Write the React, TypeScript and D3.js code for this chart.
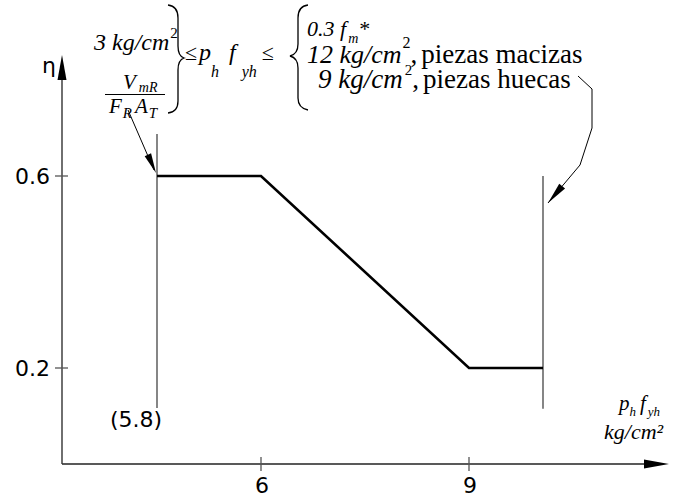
import React from "react";
import * as d3 from "d3";

const W = 677;
const H = 497;

// Reduction factor η against p_h·f_yh (schematic abscissa, broken at the left bound)
const pfValues = [5.8, 6, 9, 10];
const etaValues = [0.6, 0.6, 0.2, 0.2];
const xTickValues = [6, 9];
const yTickValues = [0.2, 0.6];
const yTickLabels = ["0.2", "0.6"];
const leftBoundLabel = "(5.8)";
// vertical extent (in η) of the two bounding lines
const leftBoundEta = [0.1167, 0.6875];
const rightBoundEta = [0.115, 0.6];

const SERIF = "'Liberation Serif', 'Times New Roman', serif";
const SANS = "'DejaVu Sans', Verdana, sans-serif";

const x = d3.scaleLinear().domain(pfValues).range([157, 261, 469, 543]);
const y = d3.scaleLinear().domain([0, 0.6]).range([464, 176]);

const axisX0 = 62;
const axisXEnd = 669;
const axisYTop = 55;

const curve = d3
  .line<number>()
  .x((d) => x(d))
  .y((_, i) => y(etaValues[i]));

function arrowHead(tip: [number, number], from: [number, number], len: number, half: number) {
  const dx = tip[0] - from[0];
  const dy = tip[1] - from[1];
  const l = Math.hypot(dx, dy);
  const ux = dx / l;
  const uy = dy / l;
  const bx = tip[0] - ux * len;
  const by = tip[1] - uy * len;
  const px = -uy * half;
  const py = ux * half;
  return `${tip[0]},${tip[1]} ${bx + px},${by + py} ${bx - px},${by - py}`;
}

const serifText = { fontFamily: SERIF, fill: "#000" } as const;

export default function App() {
  const y0 = y(0);
  const xl = x(5.8);
  const xr = x(10);

  const rightLeader: [number, number][] = [
    [578, 76],
    [592, 89],
    [592, 128],
    [580, 165],
    [xr + 5, 203],
  ];

  return (
    <svg
      width={W}
      height={H}
      style={{ position: "absolute", left: 0, top: 0, background: "#fff" }}
    >
      {/* axes */}
      <line x1={axisX0} y1={y0} x2={axisXEnd - 20} y2={y0} stroke="#222" strokeWidth={1.4} />
      <polygon points={arrowHead([axisXEnd, y0], [axisX0, y0], 25, 4.5)} fill="#000" />
      <line x1={axisX0} y1={y0} x2={axisX0} y2={axisYTop + 20} stroke="#333" strokeWidth={1.4} />
      <polygon points={arrowHead([axisX0, axisYTop], [axisX0, y0], 25, 4.5)} fill="#000" />

      {/* ticks */}
      {xTickValues.map((v) => (
        <g key={"xt" + v}>
          <line x1={x(v)} x2={x(v)} y1={y0 - 7} y2={y0 + 7} stroke="#555" strokeWidth={1.3} />
          <text x={x(v) + 1} y={493} textAnchor="middle" fontFamily={SANS} fontSize={22} fill="#000">
            {v}
          </text>
        </g>
      ))}
      {yTickValues.map((v, i) => (
        <g key={"yt" + v}>
          <line x1={axisX0 - 7} x2={axisX0 + 6} y1={y(v)} y2={y(v)} stroke="#555" strokeWidth={1.3} />
          <text x={50} y={y(v) + 8} textAnchor="end" fontFamily={SANS} fontSize={22} fill="#000">
            {yTickLabels[i]}
          </text>
        </g>
      ))}
      <text x={42} y={73} fontFamily={SANS} fontSize={22} fill="#000">
        η
      </text>

      {/* bounding lines */}
      <line x1={xl} x2={xl} y1={y(leftBoundEta[0])} y2={y(leftBoundEta[1])} stroke="#444" strokeWidth={1.3} />
      <line x1={xr} x2={xr} y1={y(rightBoundEta[0])} y2={y(rightBoundEta[1])} stroke="#444" strokeWidth={1.3} />
      <text x={xl - 21} y={427} textAnchor="middle" fontFamily={SANS} fontSize={22} fill="#000">
        {leftBoundLabel}
      </text>

      {/* η curve */}
      <path d={curve(pfValues) || ""} fill="none" stroke="#000" strokeWidth={2.6} strokeLinejoin="miter" />

      {/* lower limit group */}
      <text x={94} y={50} fontSize={24} fontStyle="italic" {...serifText}>
        3 kg/cm
        <tspan dx={1} dy={-12} fontSize={15} fontStyle="normal">2</tspan>
      </text>
      <text x={123} y={89} fontSize={21} fontStyle="italic" {...serifText}>
        V
        <tspan dx={3} dy={3} fontSize={14}>mR</tspan>
      </text>
      <line x1={105} x2={165} y1={94.5} y2={94.5} stroke="#000" strokeWidth={1} />
      <text x={109} y={113} fontSize={21} fontStyle="italic" {...serifText}>
        F
        <tspan dx={1} dy={5} fontSize={15}>R</tspan>
        <tspan dx={3} dy={-5}>A</tspan>
        <tspan dx={1} dy={5} fontSize={15}>T</tspan>
      </text>
      <path
        d="M168,5 Q178,6 178,18 L178,46 Q178,56 184,58 Q178,60 178,70 L178,101 Q178,112 168,113"
        fill="none"
        stroke="#000"
        strokeWidth={1.3}
      />

      {/* ≤ p_h f_yh ≤ */}
      <text x={185} y={60} fontSize={22} {...serifText}>
        ≤
        <tspan dx={2} fontSize={24} fontStyle="italic">p</tspan>
        <tspan dx={0} dy={17} fontSize={16} fontStyle="italic">h</tspan>
        <tspan dx={10} dy={-17} fontSize={24} fontStyle="italic">f</tspan>
        <tspan dx={6} dy={17} fontSize={16} fontStyle="italic">yh</tspan>
        <tspan dx={5} dy={-17}>≤</tspan>
      </text>

      {/* upper limit group */}
      <path
        d="M308,5 Q298,6 298,18 L298,44 Q298,54 290,56 Q298,58 298,68 L298,98 Q298,108 308,110"
        fill="none"
        stroke="#000"
        strokeWidth={1.3}
      />
      <text x={307} y={36} fontSize={22} fontStyle="italic" {...serifText}>
        0.3 f
        <tspan dx={2} dy={7} fontSize={14}>m</tspan>
        <tspan dx={1} dy={-7} fontStyle="normal">*</tspan>
      </text>
      <text x={307} y={63} fontSize={26} {...serifText}>
        <tspan fontStyle="italic">12 kg/cm</tspan>
        <tspan dx={1} dy={-15} fontSize={16}>2</tspan>
        <tspan dy={15} fontSize={27}>,</tspan>
        <tspan dx={4} fontSize={27}>piezas macizas</tspan>
      </text>
      <text x={318} y={88} fontSize={27} {...serifText}>
        <tspan fontStyle="italic">9 kg/cm</tspan>
        <tspan dx={2} dy={-13} fontSize={15}>2</tspan>
        <tspan dy={13}>,</tspan>
        <tspan dx={4}>piezas huecas</tspan>
      </text>

      {/* leaders */}
      <line x1={128} y1={110} x2={154} y2={170} stroke="#000" strokeWidth={1} />
      <polygon points={arrowHead([156, 173], [128, 110], 20, 3.5)} fill="#000" />
      <polyline
        points={rightLeader.map((p) => p.join(",")).join(" ")}
        fill="none"
        stroke="#000"
        strokeWidth={1}
      />
      <polygon points={arrowHead([xr + 5, 203], [580, 165], 22, 3.8)} fill="#000" />

      {/* abscissa label */}
      <text x={619} y={410} fontSize={21} fontStyle="italic" {...serifText}>
        p
        <tspan dy={6} fontSize={13}>h</tspan>
        <tspan dx={4} dy={-6}>f</tspan>
        <tspan dx={2} dy={6} fontSize={13}>yh</tspan>
      </text>
      <text x={604} y={439} fontSize={22} fontStyle="italic" {...serifText}>
        kg/cm²
      </text>
    </svg>
  );
}
